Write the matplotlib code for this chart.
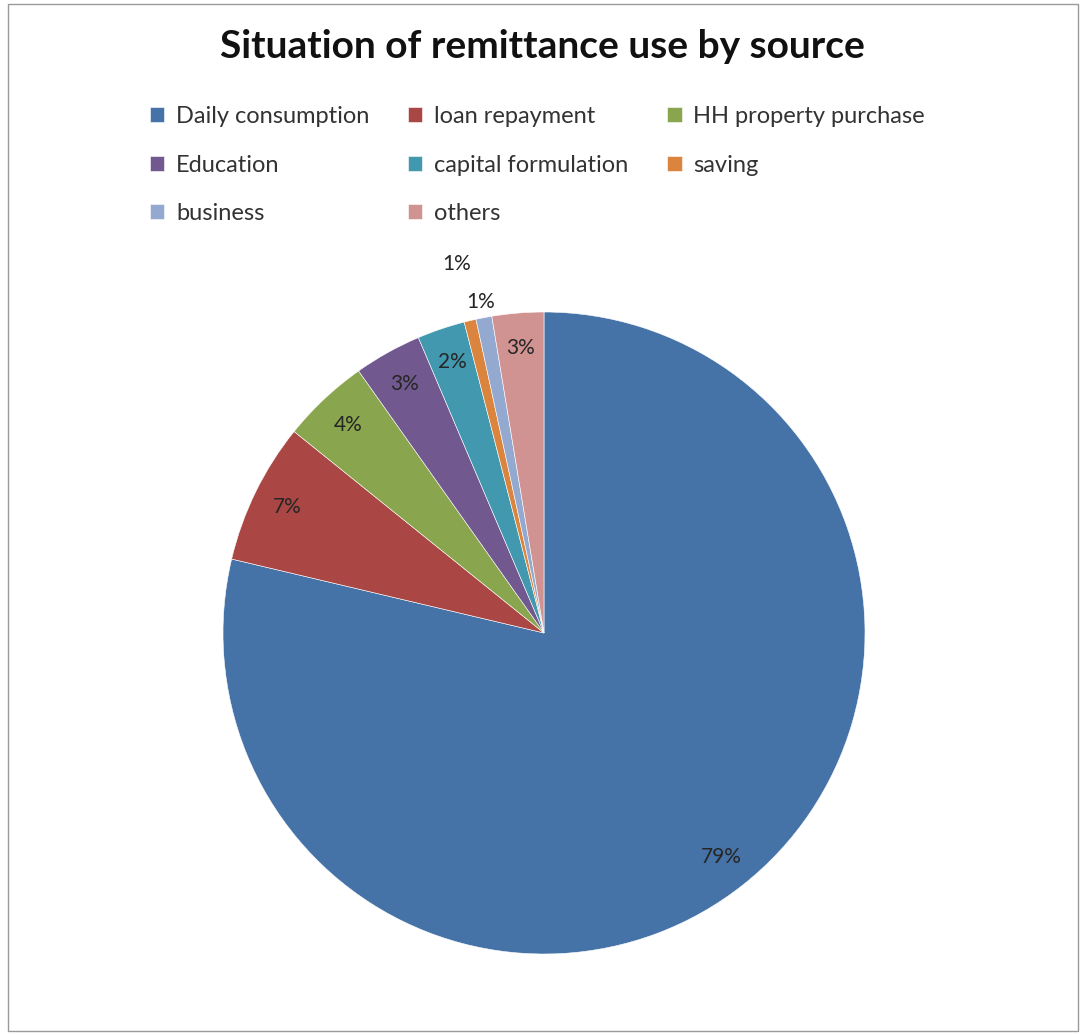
import matplotlib.pyplot as plt
import numpy as np
from matplotlib.patches import Rectangle

# data (percent of remittance use)
categories = ['Daily consumption', 'loan repayment', 'HH property purchase', 'Education',
              'capital formulation', 'saving', 'business', 'others']
shares = [78.7, 7.1, 4.4, 3.4, 2.4, 0.6, 0.8, 2.6]
colors = ['#4572A7', '#AA4643', '#89A54E', '#71588F', '#4198AF', '#DB843D', '#93A9CF', '#D19392']

plt.rcParams['font.family'] = ['Lato', 'DejaVu Sans']

W, H = 1085, 1035
fig = plt.figure(figsize=(W / 100, H / 100), dpi=100)

# chart border
fig.patches.append(Rectangle((8 / W, 4 / H), 1070 / W, 1027 / H, transform=fig.transFigure,
                             fill=False, edgecolor='#9a9a9a', linewidth=1.0))

# pie axes: center (544, 633) px, radius 321 px
cx, cy, r = 544, 633, 321
ax = fig.add_axes([(cx - r) / W, (H - cy - r) / H, 2 * r / W, 2 * r / H])
wedges, texts, autotexts = ax.pie(shares, colors=colors, startangle=90, counterclock=False,
                                  autopct='%1.0f%%', pctdistance=0.89,
                                  wedgeprops=dict(edgecolor='white', linewidth=0.4),
                                  textprops=dict(fontsize=15, color='#262626'))
ax.set_xlim(-1, 1)
ax.set_ylim(-1, 1)

# small slices get labels outside the pie
for i, dist in [(5, 1.18), (6, 1.05)]:
    w = wedges[i]
    ang = np.deg2rad((w.theta1 + w.theta2) / 2)
    autotexts[i].set_position((dist * np.cos(ang), dist * np.sin(ang)))

fig.text(0.5, 1 - 47 / H, 'Situation of remittance use by source', ha='center', va='center',
         fontsize=28, fontweight='bold', color='#111111')

order = [0, 3, 6, 1, 4, 7, 2, 5]
leg = fig.legend([wedges[i] for i in order], [categories[i] for i in order], ncol=3,
                 loc='upper left', bbox_to_anchor=(150 / W, 1 - 106 / H), frameon=False,
                 borderpad=0, borderaxespad=0,
                 fontsize=17, handlelength=0.6, handleheight=0.6, handletextpad=0.5,
                 columnspacing=1.65, labelspacing=1.17, labelcolor='#333333')

fig.savefig('out.png', dpi=100)
